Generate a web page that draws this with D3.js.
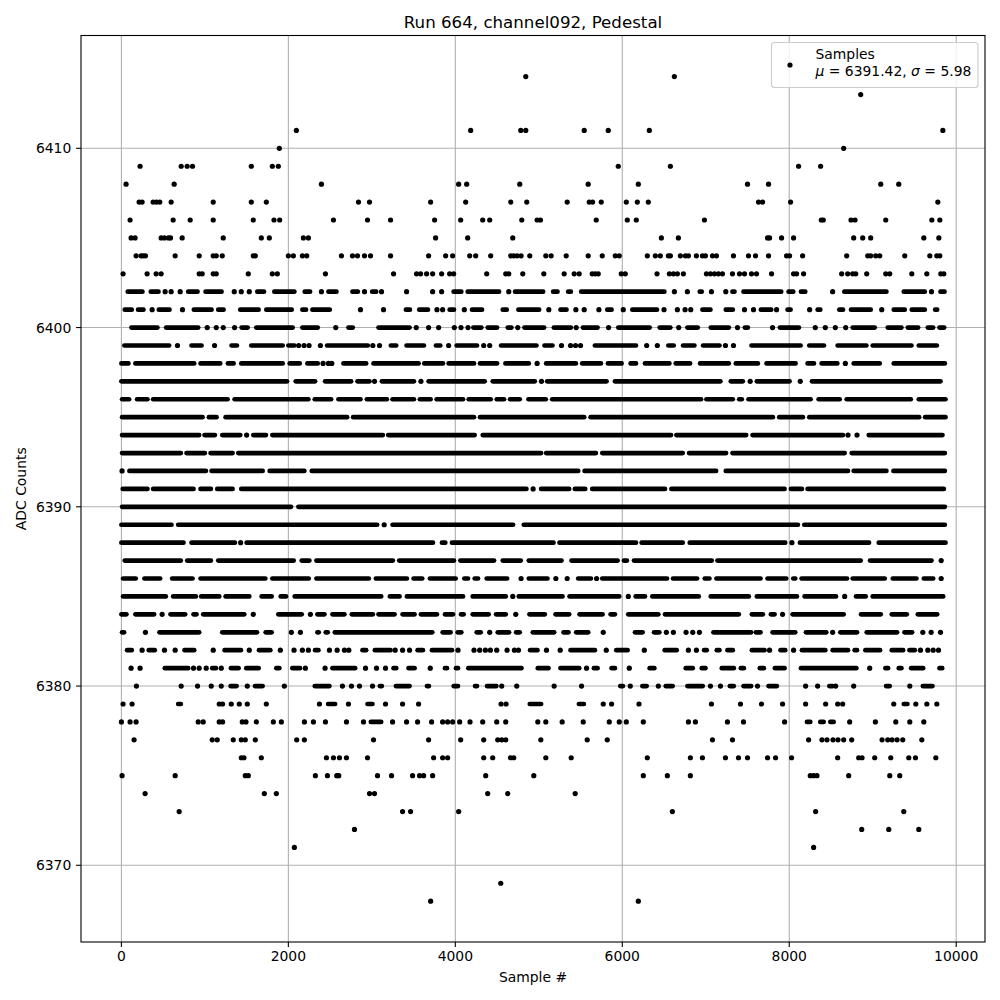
<!DOCTYPE html>
<html><head><meta charset="utf-8">
<script src="https://cdn.jsdelivr.net/npm/d3@7/dist/d3.min.js"></script>
<style>html,body{margin:0;padding:0;background:#fff}svg{display:block}text{font-family:"DejaVu Sans";fill:#000}</style>
</head><body><svg id="c" width="1000" height="1000"></svg>
<script>
const titleText="Run 664, channel092, Pedestal", xLabel="Sample #", yLabel="ADC Counts";
const xTicks=[0,2000,4000,6000,8000,10000], yTicks=[6370,6380,6390,6400,6410];
// One row per ADC level. A number is one sample that can be read alone;
// a pair [first,last] is a stretch where the markers fuse into a solid bar in the picture.
const r414=[4844,6624];
const r413=[8856];
const r411=[2096,4184,4784,4844,5544,5832,6324,9840];
const r410=[1892,8652];
const r409=[224,716,788,852,1556,1808,1880,5952,6576,8112,8376];
const r408=[56,632,2396,4040,4136,4772,5592,6192,7500,7752,9096,9312];
const r407=[212,248,380,420,460,596,1100,1556,1736,2840,2972,3704,4124,4664,4856,5340,5604,5644,5748,6048,6180,6312,7632,7680,8016,9780];
const r406=[104,620,824,1100,1580,1828,1896,2540,2948,3224,3752,4064,4328,4412,4796,4980,5020,5688,6060,6168,6984,8384,8408,8740,8788,9156,9708,9804];
const r405=[116,164,476,516,564,588,728,1220,1676,1772,2180,2240,3764,4148,4688,6468,6672,7740,7764,7908,8052,8772,8880,8976,9612,9792];
const r404=[176,236,260,288,644,932,1100,1136,1208,1580,1604,2000,2060,2168,2220,2636,2768,2828,2912,2984,3224,3680,3884,3968,4172,4244,4424,4664,4700,4740,4788,4892,5084,5148,5328,5592,5760,5916,5964,6300,6396,6456,6552,6576,6696,6756,6792,6888,6960,6996,7080,7128,7332,7512,7596,7752,7968,8004,8160,8688,8940,8976,9036,9084,9384,9684,9768,9804];
const r403=[20,308,416,476,932,968,1100,1136,1520,1808,1868,2444,3260,3536,3584,3656,3728,3836,3932,3980,4376,4604,4640,4808,5060,5304,5424,5484,5640,5676,5712,5988,6036,6416,6564,6612,6660,6732,7008,7056,7104,7152,7200,7320,7404,7464,7548,7608,7788,8052,8088,8172,8628,8700,8760,8796,8928,9156,9204,9468,9648,9816,9852];
const r402=[[76,252],[352,444],524,596,704,[800,912],[1008,1200],1352,1436,1532,[1628,1708],[1832,2072],[2196,2260],2396,[2480,2576],[2768,2832],2912,[3004,3052],3116,3416,3728,3836,[3980,4072],[4148,4524],4640,[4716,5052],[5172,5224],[5352,5384],[5508,6504],6624,6780,[6928,6952],7068,7240,[7320,7344],[7452,7904],[7992,8048],[8140,8192],8520,[8660,9164],[9372,9624],9704,[9812,9860]];
const r401=[[40,124],[200,264],368,[448,576],732,[868,1080],[1160,1224],[1424,1644],[1736,2040],[2168,2212],[2288,2496],2864,3140,[3408,3456],[3568,3672],3780,3848,[3932,3984],4108,[4200,4320],[4568,4616],[4756,5004],5120,[5260,5332],5444,5544,5720,[5820,5872],6012,[6120,6416],6500,6660,6752,6820,[6960,7056],[7240,7324],7464,7572,[7660,7784],7848,[7980,8016],8244,[8340,8372],[8600,8644],[8740,8976],9108,[9252,9384],[9468,9624],[9748,9772]];
const r400=[[120,432],[536,920],1028,1136,1220,1356,[1440,1512],[1616,2052],[2168,2352],2568,[2720,2772],[3080,3452],3532,3680,3800,3988,4068,4152,[4216,4312],[4388,4500],[4628,4672],4748,[4828,5064],[5180,5384],5448,[5528,5704],5836,[5952,6328],[6448,6576],6676,[6780,6904],[7060,7276],7380,[7468,7504],7800,[7888,8116],8312,8432,8552,8676,[8760,9024],[9180,9344],[9420,9544],[9660,9724],[9800,9856]];
const r399=[[36,572],672,[840,960],1116,[1320,1384],[1556,1932],[2000,2072],2124,2188,2248,2384,[2464,2952],3012,3092,[3228,3292],[3416,3624],[3768,3820],3920,[4016,4260],4340,4412,[4548,4972],[5068,5164],5272,5380,5440,5500,[5672,6164],6292,6420,[6552,6616],[6728,6864],[6968,7164],7236,7332,[7548,8136],[8240,8416],[8580,8924],[9000,9464],[9552,9768]];
const r398=[[0,84],[168,872],[948,1184],[1276,1344],[1436,1932],[2016,2136],[2228,2352],2416,2480,2520,[2660,2932],[3020,3560],[3628,3852],[3920,4224],[4296,4500],[4600,4880],4980,[5088,5444],[5520,5744],[5828,5992],[6100,6164],[6272,6564],[6640,6812],[6932,7276],[7360,7624],[7728,8076],[8220,8296],[8388,8576],8672,[8772,9084],[9252,9864]];
const r397=[[0,1984],[2088,2320],[2440,2752],[2828,2972],3032,[3120,3504],3588,[3680,4352],[4448,4952],5032,[5100,5812],[5912,7176],[7300,7444],7532,[7612,8004],8132,[8272,9812]];
const r396=[[8,92],[188,312],[380,1272],[1356,2240],[2316,2512],[2600,2864],[2940,3180],[3248,3504],[3576,3704],[3776,4092],[4160,4424],[4496,4584],[4656,4772],[4876,5084],[5160,6944],[7008,7324],[7400,7432],[7512,8256],[8352,8604],[8688,9456],[9552,9872]];
const r395=[[8,972],[1048,1140],[1248,2704],[2776,4224],[4296,5544],[5620,7804],[7880,8164],[8240,9556],[9628,9872]];
const r394=[[8,932],[996,1120],[1208,1424],1500,[1580,1732],[1808,3132],[3196,4232],[4328,6584],[6648,7484],[7560,8644],8704,8812,[8952,9836]];
const r393=[[8,712],[780,1000],[1068,1332],[1400,5028],[5088,5684],[5760,6724],[6800,7244],[7320,8664],[8748,9864]];
const r392=[8,[96,1012],[1080,1692],[1776,2192],[2280,5472],[5548,7124],[7240,8704],[8772,9164],[9248,9864]];
const r391=[[16,312],[380,864],[948,1072],[1148,1332],[1436,4852],4932,[5028,5364],[5432,5556],[5640,6512],[6588,7944],[8020,8152],[8220,9852]];
const r390=[[8,2032],[2120,9864]];
const r389=[[0,600],[680,3064],3148,[3248,4692],[4820,8104],[8180,9864]];
const r388=[[0,744],[840,1360],1428,[1500,3732],[3840,3880],[3960,5176],[5248,6164],[6232,6724],[6808,7952],8032,[8128,8956],[9072,9872]];
const r387=[[40,712],[788,1072],[1160,2064],[2160,2252],[2336,3252],[3328,3984],[4060,4464],[4568,4784],[4880,5272],[5392,5944],[6020,6056],[6140,7072],[7140,8856],[8968,9704],9820];
const r386=[[20,172],[276,464],[608,852],[948,1724],[1808,2244],[2336,2964],[3048,3420],[3500,3604],[3696,4004],[4108,4152],[4232,4272],[4376,4620],4788,[4880,5104],5204,5340,[5472,5624],5692,[5760,6536],[6608,6896],[6988,7044],[7128,7656],[7740,7964],[8048,8072],[8148,8692],[8760,9144],[9240,9524],[9612,9724],9820];
const r385=[[20,532],[620,892],[956,1172],[1248,1532],[1680,1800],[1908,1972],[2076,3112],[3216,3332],[3420,4092],[4208,4604],4688,[4760,5284],[5368,5964],6072,[6160,6272],[6360,6916],[7060,7516],[7612,8092],[8184,8560],8664,[8800,8916],[9000,9844]];
const r384=[[0,60],[168,392],488,[588,764],[864,900],[980,1472],1580,[1880,2160],2264,[2348,2432],[2528,2672],[2760,3012],[3080,3272],[3368,3512],[3588,3780],[3876,3972],[4068,4100],[4208,4400],[4488,4604],4724,[4888,5072],[5200,5364],[5488,5764],[5860,5912],[6072,6432],[6512,7396],[7552,7684],[7780,7824],7920,[8040,8652],[8860,9096],[9228,9408],[9540,9772]];
const r383=[[8,32],288,[456,932],[1208,1624],[1728,1800],2036,2144,[2348,2364],[2448,2472],[2556,3724],[3848,3944],[4028,4072],[4256,4304],4412,[4508,4644],[4728,4772],[4928,5184],[5296,5356],[5448,5592],5772,[6152,6244],[6380,6444],6528,6612,6764,6844,6924,[7092,7544],[7600,7656],[7800,8072],[8200,8444],8520,[8612,8812],[8928,9292],[9380,9472],9600,9700,9812];
const r382=[[68,124],248,[328,400],516,644,[756,872],1100,[1236,1432],1532,[1648,1784],1904,2068,2168,2240,[2320,2360],2492,2584,2672,2724,[2888,2932],[3036,3224],3280,3368,3452,[3548,3612],[3720,3960],4032,4224,4292,4360,4420,4496,4620,4708,4756,[4896,4984],5092,5256,[5380,5672],5808,[5928,6064],6264,[6508,6652],6792,6888,[6980,7012],[7132,7164],[7260,7324],[7552,7704],7764,[7896,7952],8052,[8152,8432],[8520,8704],[8784,8812],[8912,9088],[9228,9364],[9440,9504],9572,9660,9724,9788];
const r381=[116,224,[520,800],864,932,1016,[1088,1132],1196,[1312,1404],[1496,1644],[1856,1892],[2048,2140],2204,2440,[2528,2800],2924,3056,3164,[3260,3292],[3440,3512],3700,[3876,3900],[4008,4032],[4156,4792],[4988,5116],[5260,5484],5572,[5660,5704],[5872,5912],6084,[6328,6384],[6760,6844],[6952,6996],[7192,7336],[7420,7456],[7648,7696],[7828,7944],[8140,8804],8964,[9152,9184],[9312,9344],[9460,9604],[9800,9832]];
const r380=[180,716,912,1076,1196,[1308,1380],1508,[1600,1692],1952,[2316,2492],2648,2756,2852,3008,[3096,3120],[3288,3452],[3660,3684],[3980,4032],[4236,4260],[4380,4492],4556,4736,5184,5512,[5976,6008],6096,[6240,6292],6432,[6520,6604],[6780,6964],7056,7176,[7288,7336],[7452,7544],7620,[7752,7852],8196,8340,[8480,8520],8556,8772,[9160,9204],9444,[9600,9716]];
const r379=[20,128,[680,712],1172,1212,1316,1412,1508,1736,2372,[2476,2560],2720,[2948,3008],3164,3368,3560,4548,4608,[4892,5028],[5480,5540],5772,5872,6200,7068,7416,7668,7920,8196,8436,8580,8640,9252,[9372,9416],9516,9648,9768];
const r378=[0,104,176,920,980,1172,1212,1448,1492,1616,1820,1916,2192,2300,2444,2696,2900,[2988,3112],3248,3416,3548,3716,3848,3908,3968,4052,4176,4328,4496,4604,4988,5084,5280,5532,5844,5964,6048,6252,6792,6876,7260,7452,7944,[8212,8252],[8372,8412],[8492,8532],8724,9032,9276,9444,9612];
const r377=[152,1088,1148,1340,1436,1484,1604,2100,2192,3020,3680,4064,4340,4508,4556,4604,5024,5580,5820,7080,7320,8232,8392,8452,8524,8584,8652,8748,9112,9180,9232,9292,9360,9588];
const r376=[1436,1468,1676,2456,2540,2612,2696,2948,3740,3848,3908,4340,4448,4660,4700,5084,5388,6300,6816,6960,7236,7392,7500,7740,7836,8028,8580,8832,8872,9024,9216,9432,9512,9756];
const r375=[8,644,1484,1520,2324,2468,2580,2604,3068,3236,3488,3572,3620,3728,4364,4940,6252,6540,6816,8252,8292,8332,8712,9204,9324];
const r374=[284,1712,1856,2972,3032,4388,4628,5436];
const r373=[692,3368,3464,4040,6600,8316,9372];
const r372=[2792,8868,9192,9552];
const r371=[2072,8292];
const r369=[4544];
const r368=[3704,6192];

const levels=[6414,6413,6411,6410,6409,6408,6407,6406,6405,6404,6403,6402,6401,6400,6399,6398,6397,6396,6395,6394,6393,6392,6391,6390,6389,6388,6387,6386,6385,6384,6383,6382,6381,6380,6379,6378,6377,6376,6375,6374,6373,6372,6371,6369,6368];
const rows=[r414,r413,r411,r410,r409,r408,r407,r406,r405,r404,r403,r402,r401,r400,r399,r398,r397,r396,r395,r394,r393,r392,r391,r390,r389,r388,r387,r386,r385,r384,r383,r382,r381,r380,r379,r378,r377,r376,r375,r374,r373,r372,r371,r369,r368];

const box={l:81,r:985,t:35.5,b:942}, R=2.6, barW=4.7;
const x=d3.scaleLinear().domain([0,10000]).range([121.4,956.2]);
const y=d3.scaleLinear().domain([6370,6410]).range([865.3,148.3]);
const svg=d3.select("#c");
// grid
svg.append("g").selectAll("line").data(xTicks).join("line").attr("x1",x).attr("x2",x).attr("y1",box.t).attr("y2",box.b).attr("stroke","#b0b0b0").attr("stroke-width",1.1);
svg.append("g").selectAll("line").data(yTicks).join("line").attr("y1",y).attr("y2",y).attr("x1",box.l).attr("x2",box.r).attr("stroke","#b0b0b0").attr("stroke-width",1.1);
// samples
const singles=[],runs=[];
rows.forEach((row,i)=>row.forEach(e=>{ if(Array.isArray(e)) runs.push({a:e[0],b:e[1],v:levels[i]}); else singles.push({a:e,v:levels[i]}); }));
svg.append("g").selectAll("line").data(runs).join("line").attr("x1",d=>x(d.a)).attr("x2",d=>x(d.b)).attr("y1",d=>y(d.v)).attr("y2",d=>y(d.v)).attr("stroke","#000").attr("stroke-width",barW).attr("stroke-linecap","round");
svg.append("g").selectAll("circle").data(singles).join("circle").attr("cx",d=>x(d.a)).attr("cy",d=>y(d.v)).attr("r",R).attr("fill","#000");
// ticks and tick labels
svg.append("g").selectAll("line").data(xTicks).join("line").attr("x1",x).attr("x2",x).attr("y1",box.b).attr("y2",box.b+4.9).attr("stroke","#000").attr("stroke-width",1.1);
svg.append("g").selectAll("text").data(xTicks).join("text").attr("x",x).attr("y",box.b+19).attr("text-anchor","middle").attr("font-size",13.9).text(d=>d);
svg.append("g").selectAll("line").data(yTicks).join("line").attr("y1",y).attr("y2",y).attr("x1",box.l-4.9).attr("x2",box.l).attr("stroke","#000").attr("stroke-width",1.1);
svg.append("g").selectAll("text").data(yTicks).join("text").attr("x",box.l-9.7).attr("y",d=>y(d)+5).attr("text-anchor","end").attr("font-size",13.9).text(d=>d);
// frame
svg.append("rect").attr("x",box.l).attr("y",box.t).attr("width",box.r-box.l).attr("height",box.b-box.t).attr("fill","none").attr("stroke","#000").attr("stroke-width",1.1);
// titles
svg.append("text").attr("x",(box.l+box.r)/2).attr("y",27.5).attr("text-anchor","middle").attr("font-size",16.67).text(titleText);
svg.append("text").attr("x",(box.l+box.r)/2).attr("y",982).attr("text-anchor","middle").attr("font-size",13.9).text(xLabel);
svg.append("text").attr("transform","translate(26,"+((box.t+box.b)/2)+") rotate(-90)").attr("text-anchor","middle").attr("font-size",13.9).text(yLabel);
// legend
const lg=svg.append("g");
lg.append("rect").attr("x",771.5).attr("y",42.5).attr("width",206.5).attr("height",45).attr("rx",3).attr("fill","#fff").attr("fill-opacity",0.8).attr("stroke","#ccc").attr("stroke-width",1.1);
lg.append("circle").attr("cx",790).attr("cy",65).attr("r",R).attr("fill","#000");
lg.append("text").attr("x",815.5).attr("y",59).attr("font-size",13.9).text("Samples");
const t=lg.append("text").attr("x",815.5).attr("y",76).attr("font-size",13.9);
t.append("tspan").attr("font-style","italic").text("μ");
t.append("tspan").text(" = 6391.42, ");
t.append("tspan").attr("font-style","italic").text("σ");
t.append("tspan").text(" = 5.98");
</script></body></html>
